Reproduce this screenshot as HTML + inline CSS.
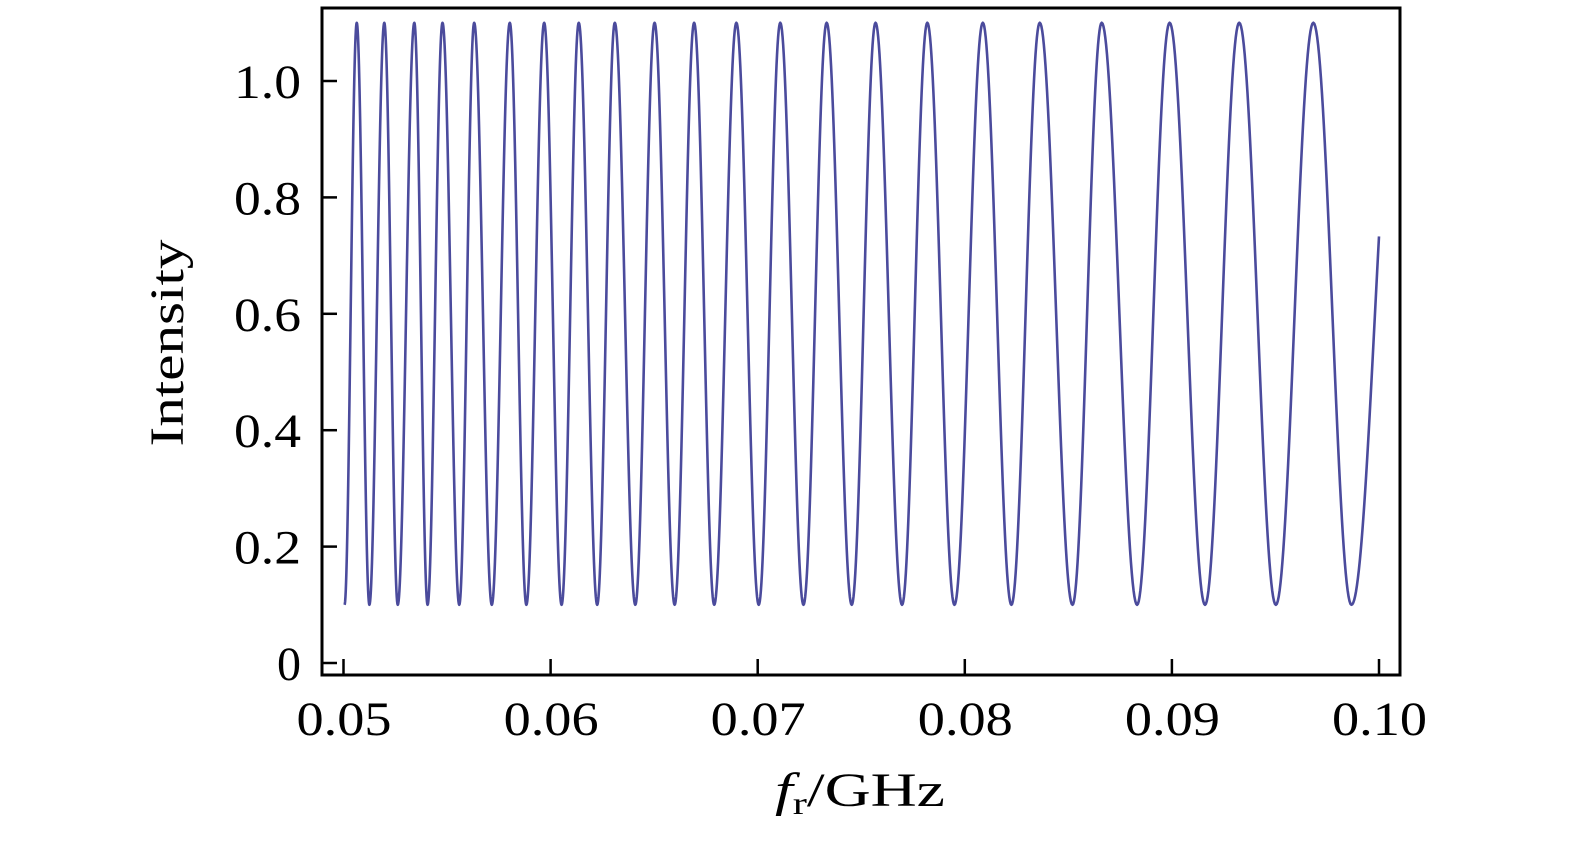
<!DOCTYPE html>
<html><head><meta charset="utf-8"><style>
html,body{margin:0;padding:0;background:#fff;}
svg text{font-family:"Liberation Serif",serif;fill:#000;}
</style></head><body>
<svg id="chart" width="1575" height="837" viewBox="0 0 1575 837" xmlns="http://www.w3.org/2000/svg">
<g id="axes"></g>
<path id="curve" fill="none" stroke="#4b4b9c" stroke-width="2.6" stroke-linejoin="round"/>
<rect x="322" y="8" width="1078" height="667" fill="none" stroke="#000" stroke-width="3"/>
<text transform="translate(183,343) rotate(-90)" text-anchor="middle" font-size="48" textLength="207" lengthAdjust="spacingAndGlyphs">Intensity</text>
<text x="775" y="806" font-size="48" textLength="170" lengthAdjust="spacingAndGlyphs"><tspan font-style="italic">f</tspan><tspan font-size="32" dy="8">r</tspan><tspan dy="-8">/GHz</tspan></text>
</svg>
<script>
const xTicks = [0.05, 0.06, 0.07, 0.08, 0.09, 0.10];
const xTickLabels = ["0.05", "0.06", "0.07", "0.08", "0.09", "0.10"];
const yTicks = [0, 0.2, 0.4, 0.6, 0.8, 1.0];
const yTickLabels = ["0", "0.2", "0.4", "0.6", "0.8", "1.0"];
const peakF = [0.05064,0.05197,0.05342,0.05478,0.05631,0.05803,0.05969,0.06136,0.06310,0.06502,0.06693,0.06897,0.07109,0.07333,0.07569,0.07819,0.08087,0.08362,0.08661,0.08989,0.09325,0.09683];
const troughF = [0.05005,0.05125,0.05262,0.05406,0.05559,0.05716,0.05883,0.06053,0.06225,0.06409,0.06599,0.06790,0.07005,0.07221,0.07454,0.07697,0.07950,0.08225,0.08520,0.08832,0.09160,0.09502,0.09867];
const peakValue = 1.1;
const troughValue = 0.1;
const endF = 0.10;
const endValue = 0.733;

const X0 = 343.5, X1 = 1379, Y0 = 663, Y1 = 81;
function xs(f){ return X0 + (f - 0.05) / 0.05 * (X1 - X0); }
function ys(v){ return Y0 - v * (Y0 - Y1); }

const NS = "http://www.w3.org/2000/svg";
const axes = document.getElementById('axes');
xTicks.forEach((t, i) => {
  const l = document.createElementNS(NS, 'line');
  
  
  l.setAttribute('x1', xs(t)); l.setAttribute('x2', xs(t));
  l.setAttribute('y1', 675); l.setAttribute('y2', 659);
  l.setAttribute('stroke', '#000'); l.setAttribute('stroke-width', '2.5');
  axes.appendChild(l);
  const tx = document.createElementNS(NS, 'text');
  
  
  tx.setAttribute('x', xs(t) - 47); tx.setAttribute('y', 735);
  tx.setAttribute('font-size', '48');
  tx.setAttribute('textLength', '95'); tx.setAttribute('lengthAdjust', 'spacingAndGlyphs');
  tx.textContent = xTickLabels[i];
  axes.appendChild(tx);
});
yTicks.forEach((t, i) => {
  const l = document.createElementNS(NS, 'line');
  
  
  l.setAttribute('x1', 322); l.setAttribute('x2', 337);
  l.setAttribute('y1', ys(t)); l.setAttribute('y2', ys(t));
  l.setAttribute('stroke', '#000'); l.setAttribute('stroke-width', '2.5');
  axes.appendChild(l);
  const tx = document.createElementNS(NS, 'text');
  
  
  tx.setAttribute('x', 301); tx.setAttribute('y', ys(t) + 17);
  tx.setAttribute('text-anchor', 'end'); tx.setAttribute('font-size', '48');
  if (yTickLabels[i].length > 1) { tx.setAttribute('textLength', '67'); tx.setAttribute('lengthAdjust', 'spacingAndGlyphs'); }
  tx.textContent = yTickLabels[i];
  axes.appendChild(tx);
});

const ext = [];
peakF.forEach(f => ext.push([f, peakValue]));
troughF.forEach(f => ext.push([f, troughValue]));
ext.sort((a, b) => a[0] - b[0]);
const mid = (peakValue + troughValue) / 2, amp = (peakValue - troughValue) / 2;
let d = '';
let first = true;
function pt(f, v){ d += (first ? 'M' : 'L') + xs(f).toFixed(2) + ',' + ys(v).toFixed(2) + ' '; first = false; }
for (let i = 0; i < ext.length - 1; i++) {
  const [fa, va] = ext[i], [fb, vb] = ext[i + 1];
  const n = 40;
  for (let k = 0; k <= n; k++) {
    const s = k / n;
    const c = Math.cos(Math.PI * s);
    const v = va < vb ? mid - amp * c : mid + amp * c;
    pt(fa + (fb - fa) * s, v);
  }
}
const last = ext[ext.length - 1];
const p = Math.acos(Math.max(-1, Math.min(1, (mid - endValue) / amp))) / Math.PI;
const h = (endF - last[0]) / p;
for (let k = 0; k <= 30; k++) {
  const f = last[0] + (endF - last[0]) * k / 30;
  const s = (f - last[0]) / h;
  pt(f, mid - amp * Math.cos(Math.PI * s));
}
document.getElementById('curve').setAttribute('d', d);
</script>
</body></html>
